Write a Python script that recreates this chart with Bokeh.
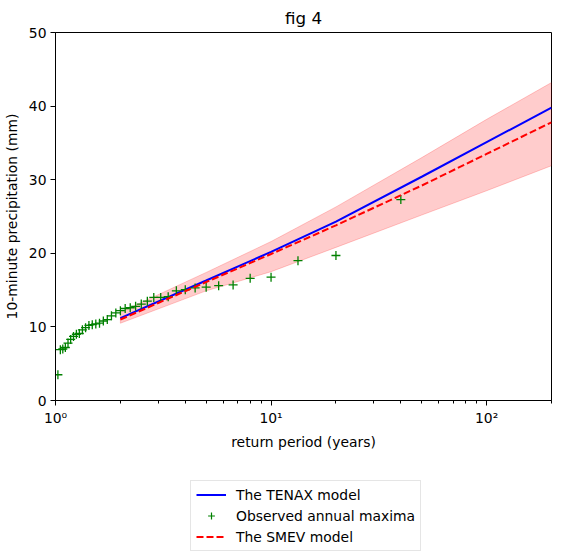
from bokeh.plotting import figure
from bokeh.layouts import column
from bokeh.models import Legend, LegendItem, FixedTicker, CustomJSTickFormatter, Range1d
from bokeh.embed import file_html
from bokeh.resources import INLINE

# Observed annual maxima (return period in years, 10-minute precipitation in mm)
obs_T = [1.026, 1.053, 1.081, 1.111, 1.143, 1.176, 1.212, 1.25, 1.290, 1.333,
         1.379, 1.429, 1.481, 1.538, 1.6, 1.667, 1.739, 1.818, 1.905, 2.0,
         2.105, 2.222, 2.353, 2.5, 2.667, 2.857, 3.077, 3.333, 3.636, 4.0,
         4.444, 5.0, 5.714, 6.667, 8.0, 10.0, 13.333, 20.0, 40.0]
obs_mm = [3.5, 6.9, 7.0, 7.2, 7.8, 8.3, 8.7, 9.0, 9.1, 9.6,
          9.9, 10.2, 10.3, 10.4, 10.5, 10.8, 11.0, 11.5, 11.9, 12.2,
          12.5, 12.6, 12.8, 13.1, 13.5, 14.0, 14.0, 14.1, 14.9, 15.05,
          15.3, 15.4, 15.6, 15.7, 16.6, 16.75, 19.0, 19.7, 27.3]

# Model curves
model_T = [2, 5, 10, 20, 50, 100, 200]
tenax_mm = [11.2, 16.3, 20.2, 24.3, 30.4, 35.1, 39.8]
smev_mm = [11.0, 16.1, 19.9, 23.8, 29.2, 33.5, 37.8]
smev_upper = [12.0, 17.4, 21.6, 26.3, 33.0, 38.2, 43.2]
smev_lower = [10.5, 14.9, 17.5, 20.8, 25.2, 28.5, 31.9]

x_major = [1, 10, 100]
x_minor = [2, 3, 4, 5, 6, 7, 8, 9, 20, 30, 40, 50, 60, 70, 80, 90, 200]
y_ticks = [0, 10, 20, 30, 40, 50]

series_labels = ["The TENAX model", "Observed annual maxima", "The SMEV model"]

FONT = "DejaVu Sans"
FS = "13.9px"

p = figure(frame_width=496, frame_height=368,
           min_border_left=49, min_border_right=2, min_border_top=23, min_border_bottom=60,
           x_axis_type="log", x_range=Range1d(1, 200), y_range=Range1d(0, 50),
           output_backend="svg", toolbar_location=None, title="fig 4")

p.title.align = "center"
p.title.text_font = FONT
p.title.text_font_size = "16.7px"
p.title.text_font_style = "normal"
p.title.text_color = "black"
p.title.offset = 0

p.grid.visible = False
p.outline_line_color = "black"
p.outline_line_alpha = 1
p.outline_line_width = 1

p.xaxis.ticker = FixedTicker(ticks=x_major, minor_ticks=x_minor)
p.xaxis.formatter = CustomJSTickFormatter(code="""
const sup = {'0':'\u2070','1':'\u00b9','2':'\u00b2','3':'\u00b3'};
const e = Math.round(Math.log10(tick));
return '10' + sup[String(e)];
""")
p.yaxis.ticker = FixedTicker(ticks=y_ticks)

for ax in (p.xaxis[0], p.yaxis[0]):
    ax.axis_line_color = "black"
    ax.major_tick_line_color = "black"
    ax.major_tick_out = 5
    ax.major_tick_in = 0
    ax.minor_tick_out = 3
    ax.minor_tick_in = 0
    ax.major_label_text_font = FONT
    ax.major_label_text_font_size = FS
    ax.major_label_text_color = "black"
    ax.axis_label_text_font = FONT
    ax.axis_label_text_font_size = FS
    ax.axis_label_text_font_style = "normal"
    ax.axis_label_text_color = "black"
    ax.major_label_standoff = 4

p.yaxis.minor_tick_line_color = None
p.xaxis.axis_label = "return period (years)"
p.yaxis.axis_label = "10-minute precipitation (mm)"
p.xaxis.axis_label_standoff = 5
p.yaxis.axis_label_standoff = 6

# confidence band
band_x = model_T + model_T[::-1]
band_y = smev_upper + smev_lower[::-1]
p.patch(band_x, band_y, fill_color="red", fill_alpha=0.2, line_color="red", line_alpha=0.2, line_width=1)

p.line(model_T, tenax_mm, line_color="blue", line_width=2)
p.scatter(obs_T, obs_mm, marker="cross", size=9, line_color="green", line_width=1.3)
p.line(model_T, smev_mm, line_color="red", line_width=2, line_dash="7 3")

# legend strip below the chart; its swatch renderers use the same series,
# which fall outside this strip's (0..1) ranges so only the legend shows
lf = figure(width=547, height=95, min_border=0, x_range=Range1d(0, 1), y_range=Range1d(0, 1),
            x_axis_location=None, y_axis_location=None, output_backend="svg", toolbar_location=None)
lf.grid.visible = False
lf.outline_line_color = None
l1 = lf.line(model_T, tenax_mm, line_color="blue", line_width=2)
l2 = lf.scatter(obs_T, obs_mm, marker="cross", size=8, line_color="green", line_width=1.2)
l3 = lf.line(model_T, smev_mm, line_color="red", line_width=2, line_dash="7 3")

legend = Legend(items=[
    LegendItem(label=series_labels[0], renderers=[l1]),
    LegendItem(label=series_labels[1], renderers=[l2]),
    LegendItem(label=series_labels[2], renderers=[l3]),
], location=(135, 4))
legend.label_text_font = FONT
legend.label_text_font_size = FS
legend.label_text_color = "black"
legend.border_line_color = "#cccccc"
legend.border_line_width = 1
legend.background_fill_alpha = 0.8
legend.padding = 5
legend.margin = 0
legend.spacing = 4
legend.glyph_width = 30
legend.glyph_height = 17
legend.label_height = 17
legend.label_standoff = 10
lf.add_layout(legend, "center")

layout = column(p, lf, spacing=0)
open("out.html", "w").write(file_html(layout, INLINE))
